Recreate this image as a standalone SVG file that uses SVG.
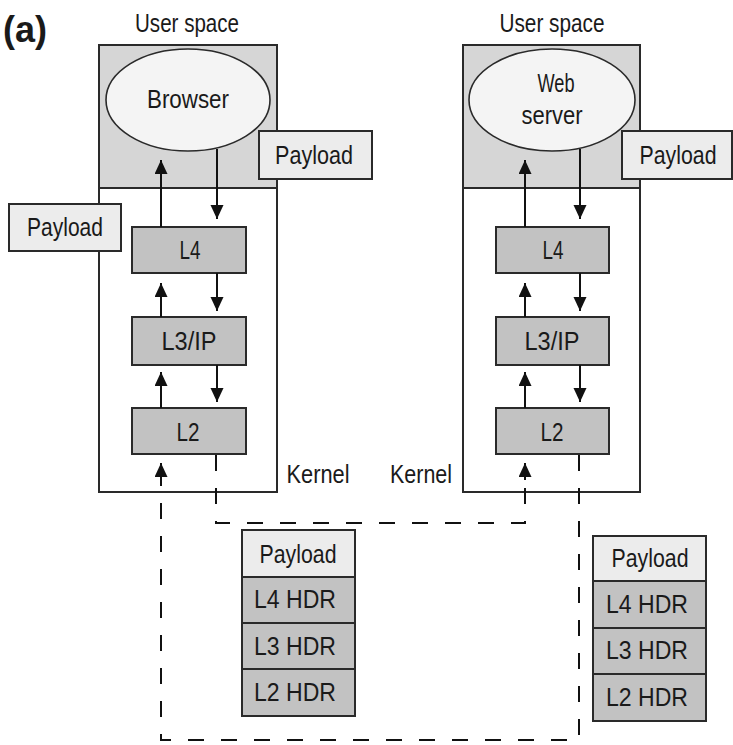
<svg xmlns="http://www.w3.org/2000/svg" width="733" height="745" viewBox="0 0 733 745">
<style>
  text { font-family: "Liberation Sans", Arial, sans-serif; font-size: 26px; fill: #1a1a1a; text-anchor: middle; }
  .host { fill: #ffffff; stroke: #2a2a2a; stroke-width: 2; }
  .user { fill: #d6d6d6; stroke: #2a2a2a; stroke-width: 2; }
  .app { fill: #f4f4f4; stroke: #2a2a2a; stroke-width: 1.6; }
  .layer { fill: #c2c2c2; stroke: #2a2a2a; stroke-width: 2; }
  .pay { fill: #ececec; stroke: #2a2a2a; stroke-width: 2; }
  .hdr { fill: #c2c2c2; stroke: #2a2a2a; stroke-width: 2; }
  .arr { fill: none; stroke: #111; stroke-width: 2; marker-end: url(#ah); }
  .dash { fill: none; stroke: #111; stroke-width: 2; stroke-dasharray: 16 17; }
</style>
<defs>
  <marker id="ah" markerUnits="userSpaceOnUse" markerWidth="14" markerHeight="14" refX="14" refY="6.5" orient="auto">
    <path d="M0,0 L14,6.5 L0,13 z" fill="#111"/>
  </marker>
</defs>
<rect width="733" height="745" fill="#ffffff"/>

<text x="25" y="42" style="font-size:36px;font-weight:bold" textLength="44" lengthAdjust="spacingAndGlyphs">(a)</text>

<g id="host-left">
  <rect class="host" x="99" y="45" width="178" height="447"/>
  <rect class="user" x="99" y="45" width="178" height="143"/>
  <text x="187" y="32" textLength="104" lengthAdjust="spacingAndGlyphs">User space</text>
  <text x="318" y="483" textLength="63" lengthAdjust="spacingAndGlyphs">Kernel</text>
</g>
<g id="host-right">
  <rect class="host" x="463" y="45" width="177" height="447"/>
  <rect class="user" x="463" y="45" width="177" height="143"/>
  <text x="552" y="32" textLength="105" lengthAdjust="spacingAndGlyphs">User space</text>
  <text x="421" y="483" textLength="62" lengthAdjust="spacingAndGlyphs">Kernel</text>
</g>

<g id="browser">
  <ellipse class="app" cx="188" cy="100" rx="82" ry="51"/>
  <text x="188" y="108" textLength="82" lengthAdjust="spacingAndGlyphs">Browser</text>
</g>
<g id="webserver">
  <ellipse class="app" cx="552" cy="100" rx="83" ry="51"/>
  <text x="556" y="92" textLength="37" lengthAdjust="spacingAndGlyphs">Web</text>
  <text x="552" y="124" textLength="61" lengthAdjust="spacingAndGlyphs">server</text>
</g>

<g id="l4-left"><rect class="layer" x="132" y="227" width="114" height="46"/><text x="190" y="259" textLength="21" lengthAdjust="spacingAndGlyphs">L4</text></g>
<g id="l3-left"><rect class="layer" x="132" y="317" width="114" height="48"/><text x="189" y="350" textLength="55" lengthAdjust="spacingAndGlyphs">L3/IP</text></g>
<g id="l2-left"><rect class="layer" x="132" y="408" width="114" height="46"/><text x="188" y="441" textLength="23" lengthAdjust="spacingAndGlyphs">L2</text></g>

<g id="l4-right"><rect class="layer" x="496" y="227" width="113" height="46"/><text x="553" y="259" textLength="21" lengthAdjust="spacingAndGlyphs">L4</text></g>
<g id="l3-right"><rect class="layer" x="496" y="317" width="113" height="48"/><text x="552" y="350" textLength="55" lengthAdjust="spacingAndGlyphs">L3/IP</text></g>
<g id="l2-right"><rect class="layer" x="496" y="408" width="113" height="46"/><text x="552" y="441" textLength="23" lengthAdjust="spacingAndGlyphs">L2</text></g>

<g id="connectors">
  <path class="arr" d="M161,227 V160"/>
  <path class="arr" d="M217,149 V219"/>
  <path class="arr" d="M161,317 V283"/>
  <path class="arr" d="M217,273 V311"/>
  <path class="arr" d="M161,408 V372"/>
  <path class="arr" d="M217,365 V402"/>

  <path class="arr" d="M525,227 V160"/>
  <path class="arr" d="M580,149 V219"/>
  <path class="arr" d="M525,317 V283"/>
  <path class="arr" d="M580,273 V311"/>
  <path class="arr" d="M525,408 V372"/>
  <path class="arr" d="M580,365 V402"/>

  <path class="dash" d="M216,455 V523 H525 V478"/>
  <path class="arr" d="M525,480 V463"/>
  <path class="dash" d="M579,455 V740 H161 V478"/>
  <path class="arr" d="M161,480 V463"/>
</g>

<g id="payload-left-out"><rect class="pay" x="9" y="204" width="112" height="47"/><text x="65" y="236" textLength="76" lengthAdjust="spacingAndGlyphs">Payload</text></g>
<g id="payload-left-in"><rect class="pay" x="259" y="131" width="113" height="48"/><text x="314" y="164" textLength="78" lengthAdjust="spacingAndGlyphs">Payload</text></g>
<g id="payload-right"><rect class="pay" x="622" y="131" width="110" height="48"/><text x="678" y="164" textLength="77" lengthAdjust="spacingAndGlyphs">Payload</text></g>

<g id="packet-mid">
  <rect class="pay" x="242" y="530" width="113" height="47"/>
  <rect class="hdr" x="242" y="577" width="113" height="46"/>
  <rect class="hdr" x="242" y="623" width="113" height="46"/>
  <rect class="hdr" x="242" y="669" width="113" height="47"/>
  <text x="298" y="563" textLength="77" lengthAdjust="spacingAndGlyphs">Payload</text>
  <text x="295" y="608" textLength="82" lengthAdjust="spacingAndGlyphs">L4 HDR</text>
  <text x="295" y="655" textLength="82" lengthAdjust="spacingAndGlyphs">L3 HDR</text>
  <text x="295" y="701" textLength="82" lengthAdjust="spacingAndGlyphs">L2 HDR</text>
</g>
<g id="packet-right">
  <rect class="pay" x="593" y="536" width="113" height="45"/>
  <rect class="hdr" x="593" y="581" width="113" height="47"/>
  <rect class="hdr" x="593" y="628" width="113" height="46"/>
  <rect class="hdr" x="593" y="674" width="113" height="47"/>
  <text x="650" y="567" textLength="77" lengthAdjust="spacingAndGlyphs">Payload</text>
  <text x="647" y="613" textLength="82" lengthAdjust="spacingAndGlyphs">L4 HDR</text>
  <text x="647" y="659" textLength="82" lengthAdjust="spacingAndGlyphs">L3 HDR</text>
  <text x="647" y="706" textLength="82" lengthAdjust="spacingAndGlyphs">L2 HDR</text>
</g>
</svg>
